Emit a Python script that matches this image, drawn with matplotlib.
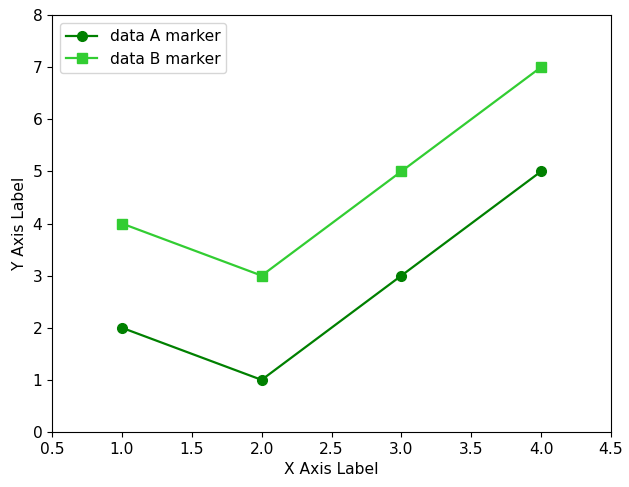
import matplotlib
matplotlib.use("Agg")
import matplotlib.pyplot as plt

x = [1, 2, 3, 4]
data_a = [2, 1, 3, 5]
data_b = [4, 3, 5, 7]

plt.rcParams['font.size'] = 11.2

fig = plt.figure(figsize=(6.29, 4.87), dpi=100)
ax = fig.add_axes([52 / 629, 1 - 432 / 487, 559 / 629, 417 / 487])

ax.plot(x, data_a, color="green", marker="o", markersize=7, linewidth=1.6, label="data A marker")
ax.plot(x, data_b, color="limegreen", marker="s", markersize=7, linewidth=1.6, label="data B marker")

ax.set_xlim(0.5, 4.5)
ax.set_ylim(0, 8)
ax.set_xlabel("X Axis Label")
ax.set_ylabel("Y Axis Label")
ax.legend(loc="upper left")

fig.savefig("out.png", dpi=100)
